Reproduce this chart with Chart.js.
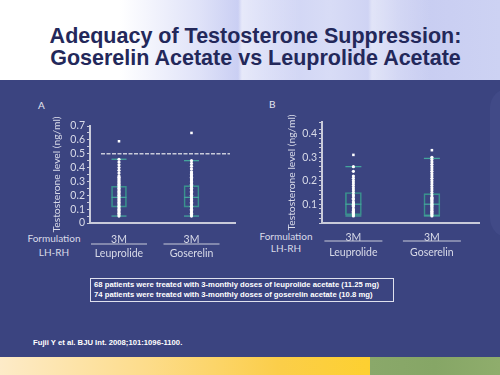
<!DOCTYPE html>
<html>
<head>
<meta charset="utf-8">
<script src="https://cdn.jsdelivr.net/npm/chart.js@4.4.1/dist/chart.umd.min.js"></script>
<style>
  html, body { margin: 0; padding: 0; }
  body { width: 500px; height: 375px; overflow: hidden; position: relative; font-family: "Liberation Sans", Arial, sans-serif; background: #3b4480; }
  #header { position: absolute; left: 0; top: 0; width: 500px; height: 80px;
    background:
      linear-gradient(to right, rgba(255,255,255,0) 0px, rgba(255,255,255,0) 238px, rgba(255,255,255,0.55) 242px, rgba(255,255,255,0) 300px, rgba(255,255,255,0) 368px, rgba(255,255,255,0.4) 372px, rgba(255,255,255,0) 430px),
      linear-gradient(to right, #ffffff 0px, #ffffff 120px, #dfe2f8 200px, #c9cef3 240px, #d8dcf6 330px, #c7ccf1 400px, #cdd2f3 500px); }
  #title { position: absolute; left: 0; width: 511px; top: 25px; text-align: center; font-weight: bold; font-size: 21.5px; line-height: 22px; color: #23285a; }
  #swirl { position: absolute; left: 490px; top: 88px; width: 40px; height: 150px; border-radius: 20px; background: #414a87; }
  #panel { position: absolute; left: 10px; top: 92px; width: 480px; height: 250px; background: #3b4480; }
  .chartbox { position: absolute; }
  .letter { position: absolute; font-family: Lato, sans-serif; font-size: 10px; color: #e4e6ef; }
  .form { position: absolute; font-family: Lato, sans-serif; font-size: 10px; line-height: 14px; color: #d9dbe8; text-align: center; width: 70px; }
  #note { position: absolute; left: 90px; top: 278px; width: 299px; height: 21px; border: 1px solid #dfe1ee; color: #ffffff; font-weight: bold; font-size: 7.7px; line-height: 9.5px; padding: 1px 0 0 3px; box-sizing: content-box; }
  #cite { position: absolute; left: 33px; top: 338px; color: #ffffff; font-weight: bold; font-size: 7.7px; }
  #stripeL { position: absolute; left: 0; top: 357px; width: 370px; height: 18px; background: linear-gradient(to right, #fdebc8, #fddc8a 40%, #fbce4a 75%, #fdd030); }
  #stripeR { position: absolute; left: 370px; top: 357px; width: 130px; height: 18px; background: linear-gradient(to right, #8aa86a, #86a666 50%, #8fad6c); }
</style>
</head>
<body>
<div id="header"></div>
<div id="title">Adequacy of Testosterone Suppression:<br>Goserelin Acetate vs Leuprolide Acetate</div>
<div id="swirl"></div>
<div id="panel"></div>

<div class="letter" style="left:38px; top:99px;">A</div>
<div class="letter" style="left:269px; top:98px;">B</div>
<div class="form" style="left:19px; top:231px;">Formulation<br>LH-RH</div>
<div class="form" style="left:251px; top:230px; line-height:12px;">Formulation<br>LH-RH</div>

<div class="chartbox" style="left:20px; top:90px; width:230px; height:180px;"><canvas id="chartA" width="230" height="180"></canvas></div>
<div class="chartbox" style="left:250px; top:90px; width:240px; height:180px;"><canvas id="chartB" width="240" height="180"></canvas></div>

<div id="note">68 patients were treated with 3-monthly doses of leuprolide acetate (11.25 mg)<br>74 patients were treated with 3-monthly doses of goserelin acetate (10.8 mg)</div>
<div id="cite">Fujii Y et al. BJU Int. 2008;101:1096-1100.</div>
<div id="stripeL"></div>
<div id="stripeR"></div>

<script>
// categories and labels
var categories = ['Leuprolide', 'Goserelin'];
var formulation = '3M';

// panel A: box [q1, q3], median, whiskers [low, high], outliers
var boxA = [[0.115, 0.265], [0.115, 0.27]];
var medianA = [0.185, 0.185];
var whiskerA = [[0.05, 0.46], [0.05, 0.45]];
var outlierA = [0.59, 0.65];
var thresholdA = 0.5;
var dotsA_leu = [0.05, 0.06, 0.07, 0.08, 0.09, 0.10, 0.11, 0.12, 0.13, 0.14, 0.15, 0.16, 0.17, 0.18, 0.19, 0.20,
                 0.21, 0.22, 0.23, 0.24, 0.25, 0.26, 0.27, 0.28, 0.29, 0.30, 0.31, 0.32, 0.33, 0.34,
                 0.36, 0.38, 0.40, 0.42, 0.44, 0.46];
var dotsA_gos = [0.05, 0.06, 0.07, 0.08, 0.09, 0.10, 0.11, 0.12, 0.13, 0.14, 0.15, 0.16, 0.17, 0.18, 0.19, 0.20,
                 0.21, 0.22, 0.23, 0.24, 0.25, 0.26, 0.27, 0.28, 0.29, 0.30, 0.31, 0.32, 0.33, 0.34, 0.35, 0.36, 0.37,
                 0.39, 0.41, 0.43, 0.45];

// panel B
var boxB = [[0.055, 0.15], [0.05, 0.145]];
var medianB = [0.10, 0.10];
var whiskerB = [[0.05, 0.26], [0.05, 0.295]];
var outlierB = [0.31, 0.33];
var dotsB_leu = [0.05, 0.055, 0.06, 0.065, 0.07, 0.075, 0.08, 0.09, 0.095, 0.10, 0.105, 0.11, 0.12, 0.125,
                 0.135, 0.14, 0.15, 0.16, 0.17, 0.18, 0.19, 0.20, 0.21, 0.22, 0.24, 0.26];
var dotsB_gos = [0.05, 0.055, 0.06, 0.065, 0.07, 0.075, 0.08, 0.085, 0.09, 0.095, 0.10, 0.105, 0.11, 0.115,
                 0.12, 0.125, 0.13, 0.14, 0.15, 0.16, 0.17, 0.18, 0.19, 0.20, 0.21, 0.22, 0.23, 0.24, 0.25,
                 0.26, 0.27, 0.28, 0.29, 0.30];

var textColor = '#d9dbe8';
var axisColor = '#c9cbda';
var teal = '#3a918d';
var tealLight = '#45a49c';

function pts(x, values) {
    return values.map(function(v) { return {x: x, y: v}; });
}

var extrasPlugin = {
    id: 'slideExtras',
    afterDatasetsDraw: function(chart, args, opts) {
        var ctx = chart.ctx;
        var area = chart.chartArea;
        ctx.save();
        if (opts.threshold !== undefined) {
            var y = chart.scales.y.getPixelForValue(opts.threshold);
            ctx.strokeStyle = axisColor;
            ctx.lineWidth = 1.5;
            ctx.setLineDash([4, 1.5]);
            ctx.beginPath();
            ctx.moveTo(area.left + 11, y);
            ctx.lineTo(area.right - 5, y);
            ctx.stroke();
            ctx.setLineDash([]);
        }
        ctx.restore();
    },
    afterDraw: function(chart, args, opts) {
        var ctx = chart.ctx;
        var xs = chart.scales.x;
        ctx.save();
        ctx.strokeStyle = axisColor;
        ctx.lineWidth = 1.2;
        xs.ticks.forEach(function(t) {
            var px = xs.getPixelForValue(t.value);
            ctx.beginPath();
            ctx.moveTo(px - opts.sepHalf, xs.top + opts.sepOffset);
            ctx.lineTo(px + opts.sepHalf, xs.top + opts.sepOffset);
            ctx.stroke();
        });
        ctx.restore();
    }
};

function makeChart(id, box, median, whisker, outlier, dotsLeu, dotsGos, cfg) {
    var datasets = [
        {
            type: 'line', showLine: false, order: 0,
            data: pts(1, dotsLeu).concat(pts(2, dotsGos)),
            pointRadius: 1.6, pointBorderWidth: 0, pointBackgroundColor: '#ffffff'
        },
        {
            type: 'line', showLine: false, order: 0,
            data: [{x: 1, y: outlier[0]}, {x: 2, y: outlier[1]}],
            pointStyle: 'rect', pointRadius: 1.8, pointBorderWidth: 0, pointBackgroundColor: '#ffffff'
        },
        {
            type: 'line', showLine: false, order: 1,
            data: [{x: 1, y: median[0]}, {x: 2, y: median[1]}],
            pointStyle: 'line', pointRadius: cfg.boxWidth / 2, pointBorderWidth: 1.3, pointBorderColor: tealLight
        },
        {
            type: 'line', showLine: false, order: 1,
            data: [{x: 1, y: whisker[0][0]}, {x: 2, y: whisker[1][0]}, {x: 1, y: whisker[0][1]}, {x: 2, y: whisker[1][1]}],
            pointStyle: 'line', pointRadius: cfg.boxWidth / 2, pointBorderWidth: 1.3, pointBorderColor: tealLight
        },
        {
            type: 'bar', order: 2,
            data: [{x: 1, y: box[0]}, {x: 2, y: box[1]}],
            backgroundColor: 'rgba(0,0,0,0)', borderColor: teal, borderWidth: 1,
            borderSkipped: false, barThickness: cfg.boxWidth
        }
    ];

    return new Chart(document.getElementById(id), {
        type: 'bar',
        data: { datasets: datasets },
        options: {
            animation: false,
            responsive: false,
            layout: { padding: { top: cfg.padTop, right: cfg.padRight, left: 0, bottom: 0 } },
            plugins: {
                legend: { display: false },
                tooltip: { enabled: false },
                slideExtras: { threshold: cfg.threshold, sepHalf: cfg.sepHalf, sepOffset: cfg.sepOffset }
            },
            scales: {
                x: {
                    type: 'linear',
                    offset: false,
                    min: 0.6,
                    max: 2.6,
                    afterBuildTicks: function(s) { s.ticks = [{value: 1}, {value: 2}]; },
                    afterFit: function(s) { s.height = cfg.xHeight; },
                    grid: { display: false },
                    border: { display: true, color: axisColor, width: 2 },
                    ticks: {
                        autoSkip: false, maxRotation: 0, padding: cfg.xPad,
                        color: textColor,
                        font: { family: 'Lato', size: 10.5, lineHeight: cfg.xLine },
                        callback: function(v) { return [formulation, categories[v - 1]]; }
                    }
                },
                y: {
                    min: cfg.yMin,
                    max: cfg.yMax,
                    afterFit: function(s) { s.width = cfg.yWidth; },
                    grid: { drawOnChartArea: false, drawTicks: true, tickLength: 3, color: axisColor, lineWidth: 1 },
                    border: { display: true, color: axisColor, width: 2 },
                    title: {
                        display: true, text: 'Testosterone level (ng/ml)', color: textColor,
                        font: { family: 'Lato', size: 10.3 }, padding: { top: cfg.titlePad, bottom: 0 }
                    },
                    ticks: {
                        stepSize: cfg.step, padding: 2, color: textColor, autoSkip: false,
                        font: { family: 'Lato', size: 10.5 },
                        callback: function(v) {
                            var t = Math.round(v * 10);
                            if (Math.abs(v * 10 - t) > 1e-6) return '';
                            if (cfg.yMin > 0 && t === 0) return '';
                            return t === 0 ? '0' : (t / 10).toFixed(1);
                        }
                    }
                }
            }
        },
        plugins: [extrasPlugin]
    });
}

makeChart('chartA', boxA, medianA, whiskerA, outlierA, dotsA_leu, dotsA_gos, {
    boxWidth: 15, padTop: 36, padRight: 15, xHeight: 47, yWidth: 70, titlePad: 30,
    yMin: 0, yMax: 0.7, step: 0.05, threshold: thresholdA,
    xPad: 1, xLine: 1.4, sepHalf: 28, sepOffset: 21
});

makeChart('chartB', boxB, medianB, whiskerB, outlierB, dotsB_leu, dotsB_gos, {
    boxWidth: 16, padTop: 32, padRight: 11, xHeight: 47, yWidth: 72, titlePad: 35,
    yMin: 0.02, yMax: 0.45, step: 0.02, threshold: undefined,
    xPad: 0, xLine: 1.35, sepHalf: 29, sepOffset: 18
});
</script>
</body>
</html>
